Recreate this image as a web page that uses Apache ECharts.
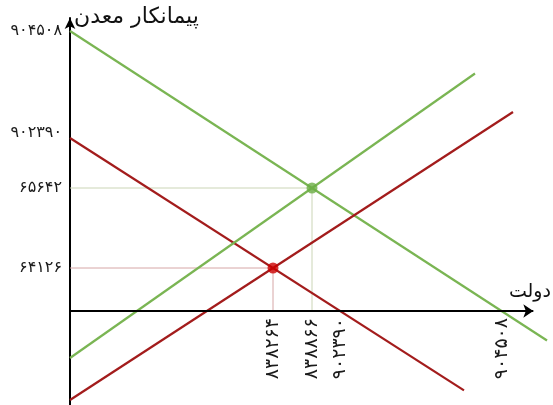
<!DOCTYPE html>
<html>
<head>
<meta charset="utf-8">
<script src="https://cdn.jsdelivr.net/npm/echarts@6/dist/echarts.min.js"></script>
<style>
  html, body { margin: 0; padding: 0; background: #fff; }
  #chart { width: 553px; height: 405px; }
</style>
</head>
<body>
<div id="chart"></div>
<script>
// Schematic supply/demand lines (abstract units), start and end points
const greenDemand = [[0, 70], [119.25, -7.37]];
const redDemand = [[0, 43.25], [98.5, -19.83]];
const greenSupply = [[0, -11.75], [101.25, 59.38]];
const redSupply = [[0, -22.25], [110.75, 49.76]];

// Equilibrium points
const greenEquilibrium = [60.5, 30.75];
const redEquilibrium = [50.75, 10.75];

// Tick positions and their labels
const xTickValues = [50.75, 60.5, 67.5, 107.9];
const xTickLabels = ['۸۳۸۲۶۴', '۸۳۸۸۶۶', '۹۰۲۳۹۰', '۹۰۴۵۰۸'];
const yTickValues = [70, 43.25, 30.75, 10.75];
const yTickLabels = ['۹۰۴۵۰۸', '۹۰۲۳۹۰', '۶۵۶۴۲', '۶۴۱۲۶'];

// Horizontal axis runs from the origin to this x value
const xAxisEnd = 115.83;

const yAxisTitle = 'پیمانکار معدن';
const xAxisTitle = 'دولت';

const FONT = '"DejaVu Sans", sans-serif';
const GREEN = '#7ab553';
const RED = '#a31c1c';
const Y_MIN = -23.5;

function labelFor(values, labels, v) {
  const i = values.findIndex(t => Math.abs(t - v) < 1e-6);
  return i >= 0 ? labels[i] : '';
}

function guide(point) {
  return [[0, point[1]], [point[0], point[1]], [point[0], 0]];
}

function straight(name, data, color) {
  return {
    name, type: 'line', data, symbol: 'none', clip: false, silent: true,
    lineStyle: { color, width: 2.2 }, z: 3
  };
}

const PX_PER_UNIT = 4;

const chart = echarts.init(document.getElementById('chart'), null, { renderer: 'canvas' });
chart.setOption({
  animation: false,
  backgroundColor: '#fff',
  grid: {
    left: 70, right: 6, top: 18, bottom: 0,
    containLabel: false, outerBoundsMode: 'none'
  },
  xAxis: {
    type: 'value', min: 0, max: 119.25,
    position: 'bottom',
    // lift the axis labels up to the zero line of the vertical axis
    offset: Y_MIN * PX_PER_UNIT,
    splitLine: { show: false },
    axisTick: { show: false },
    axisLine: { show: false, onZero: false },
    axisLabel: {
      customValues: xTickValues,
      formatter: v => labelFor(xTickValues, xTickLabels, v),
      rotate: 90, margin: 7, hideOverlap: false,
      fontFamily: FONT, fontSize: 19, color: '#1a1a1a'
    }
  },
  yAxis: {
    type: 'value', min: Y_MIN, max: 73.25,
    splitLine: { show: false },
    axisTick: { show: false },
    axisLine: {
      onZero: false, symbol: ['none', 'arrow'], symbolSize: [8, 11],
      lineStyle: { color: '#000', width: 2 }
    },
    axisLabel: {
      customValues: yTickValues,
      formatter: v => {
        const t = labelFor(yTickValues, yTickLabels, v);
        return Math.abs(v - 43.25) < 1e-6 ? '{up|' + t + '}' : t;
      },
      rich: { up: { padding: [0, 0, 10, 0], fontFamily: FONT, fontSize: 16, color: '#1a1a1a' } },
      margin: 8, hideOverlap: false,
      fontFamily: FONT, fontSize: 16, color: '#1a1a1a'
    }
  },
  graphic: [
    {
      type: 'text', left: 74, top: 6, silent: true,
      style: { text: yAxisTitle, font: '22px ' + FONT, fill: '#111' }
    },
    {
      type: 'text', right: 2, top: 283, silent: true,
      style: { text: xAxisTitle, font: '19px ' + FONT, fill: '#111' }
    }
  ],
  series: [
    {
      type: 'line', data: guide(greenEquilibrium), symbol: 'none', silent: true,
      lineStyle: { color: '#cbd5b6', width: 1 }, z: 1,
      // horizontal axis with arrow head
      markLine: {
        silent: true, animation: false,
        symbol: ['none', 'arrow'], symbolSize: 10,
        label: { show: false },
        lineStyle: { color: '#000', width: 2, type: 'solid' },
        emphasis: { disabled: true },
        data: [[{ coord: [0, 0] }, { coord: [xAxisEnd, 0] }]]
      }
    },
    {
      type: 'line', data: guide(redEquilibrium), symbol: 'none', silent: true,
      lineStyle: { color: '#d6a6a6', width: 1 }, z: 1
    },
    straight('greenDemand', greenDemand, GREEN),
    straight('redDemand', redDemand, RED),
    straight('greenSupply', greenSupply, GREEN),
    straight('redSupply', redSupply, RED),
    {
      type: 'scatter', data: [greenEquilibrium], symbolSize: 11, silent: true,
      itemStyle: { color: '#6cae45' }, z: 5
    },
    {
      type: 'scatter', data: [redEquilibrium], symbolSize: 11, silent: true,
      itemStyle: { color: '#cc0000' }, z: 5
    }
  ]
});
</script>
</body>
</html>
